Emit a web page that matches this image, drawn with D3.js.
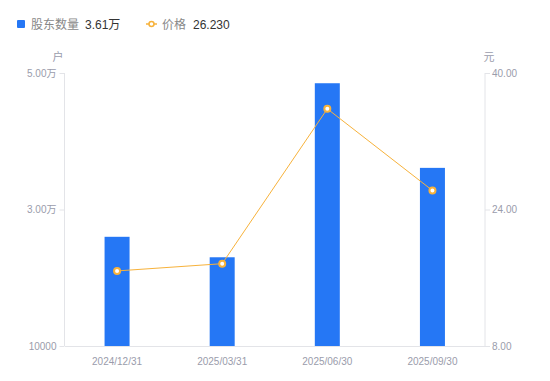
<!DOCTYPE html>
<html>
<head>
<meta charset="utf-8">
<script src="https://cdn.jsdelivr.net/npm/d3@7"></script>
<style>
  body { margin: 0; background: #fff; }
  svg text { font-family: "Liberation Sans", Arial, "Noto Sans CJK SC", sans-serif; }
</style>
</head>
<body>
<script>
// data
const dates = ['2024/12/31', '2025/03/31', '2025/06/30', '2025/09/30'];
const holders = [26000, 23000, 48500, 36100];
const prices = [16.8, 17.65, 35.8, 26.23];
const leftTicks = [10000, 30000, 50000];
const leftTickLabels = ['10000', '3.00万', '5.00万'];
const rightTicks = [8, 24, 40];

const width = 550;
const height = 381;
const plot = { left: 64.5, right: 485, top: 73, bottom: 346 };

const blue = '#2577f5';
const orange = '#f7b23b';
const axisColor = '#e3e4e8';
const labelColor = '#9a9cab';

const svg = d3.select('body')
  .append('svg')
  .attr('width', width)
  .attr('height', height);

const xScale = d3.scaleBand()
  .domain(dates)
  .range([plot.left, plot.right]);

const yLeft = d3.scaleLinear()
  .domain([10000, 50000])
  .range([plot.bottom, plot.top]);

const yRight = d3.scaleLinear()
  .domain([8, 40])
  .range([plot.bottom, plot.top]);

/* axes */
const leftAxis = d3.axisLeft(yLeft)
  .tickValues(leftTicks)
  .tickSize(5)
  .tickPadding(3)
  .tickFormat((d, i) => leftTickLabels[i]);

const rightAxis = d3.axisRight(yRight)
  .tickValues(rightTicks)
  .tickSize(5)
  .tickPadding(2)
  .tickFormat(d => d.toFixed(2));

const bottomAxis = d3.axisBottom(xScale)
  .tickSize(0)
  .tickPadding(12);

const gLeft = svg.append('g')
  .attr('transform', `translate(${plot.left},0)`)
  .call(leftAxis);

const gRight = svg.append('g')
  .attr('transform', `translate(${plot.right},0)`)
  .call(rightAxis);

const gBottom = svg.append('g')
  .attr('transform', `translate(0,${plot.bottom})`)
  .call(bottomAxis);

[gLeft, gRight, gBottom].forEach(g => {
  g.select('.domain').attr('stroke', axisColor).attr('stroke-width', 1);
  g.selectAll('.tick line').attr('stroke', axisColor);
  g.selectAll('text')
    .attr('fill', labelColor)
    .attr('font-size', 10)
    .style('font-family', '"Liberation Sans", Arial, "Noto Sans CJK SC", sans-serif');
});
gLeft.select('.domain').attr('d', `M0,${plot.top}V${plot.bottom}`);
gRight.select('.domain').attr('d', `M0,${plot.top}V${plot.bottom}`);

/* axis units */
svg.append('text')
  .attr('x', 58)
  .attr('y', 61)
  .attr('text-anchor', 'middle')
  .attr('font-size', 11)
  .attr('fill', labelColor)
  .text('户');

svg.append('text')
  .attr('x', 489)
  .attr('y', 61)
  .attr('text-anchor', 'middle')
  .attr('font-size', 11)
  .attr('fill', labelColor)
  .text('元');

/* bars */
const barWidth = 25;
svg.append('g')
  .selectAll('rect')
  .data(holders)
  .join('rect')
  .attr('x', (d, i) => xScale(dates[i]) + xScale.bandwidth() / 2 - barWidth / 2)
  .attr('y', d => yLeft(d))
  .attr('width', barWidth)
  .attr('height', d => yLeft(10000) - yLeft(d))
  .attr('fill', blue);

/* price line */
const line = d3.line()
  .x((d, i) => xScale(dates[i]) + xScale.bandwidth() / 2)
  .y(d => yRight(d));

svg.append('path')
  .attr('d', line(prices))
  .attr('fill', 'none')
  .attr('stroke', orange)
  .attr('stroke-width', 1);

svg.append('g')
  .selectAll('circle')
  .data(prices)
  .join('circle')
  .attr('cx', (d, i) => xScale(dates[i]) + xScale.bandwidth() / 2)
  .attr('cy', d => yRight(d))
  .attr('r', 3)
  .attr('fill', '#fff')
  .attr('stroke', orange)
  .attr('stroke-width', 2);

/* legend */
const legend = svg.append('g').attr('font-size', 12);

legend.append('rect')
  .attr('x', 17)
  .attr('y', 20)
  .attr('width', 8)
  .attr('height', 8)
  .attr('rx', 1)
  .attr('fill', blue);

legend.append('text')
  .attr('x', 31)
  .attr('y', 29)
  .attr('fill', '#888')
  .text('股东数量');

legend.append('text')
  .attr('x', 85)
  .attr('y', 29)
  .attr('fill', '#333')
  .text(d3.format('.2f')(holders[holders.length - 1] / 10000) + '万');

legend.append('line')
  .attr('x1', 146)
  .attr('x2', 157)
  .attr('y1', 24)
  .attr('y2', 24)
  .attr('stroke', orange)
  .attr('stroke-width', 1.5);

legend.append('circle')
  .attr('cx', 151.5)
  .attr('cy', 24)
  .attr('r', 2.5)
  .attr('fill', '#fff')
  .attr('stroke', orange)
  .attr('stroke-width', 1.5);

legend.append('text')
  .attr('x', 162)
  .attr('y', 29)
  .attr('fill', '#888')
  .text('价格');

legend.append('text')
  .attr('x', 193)
  .attr('y', 29)
  .attr('fill', '#333')
  .text(d3.format('.3f')(prices[prices.length - 1]));
</script>
</body>
</html>
